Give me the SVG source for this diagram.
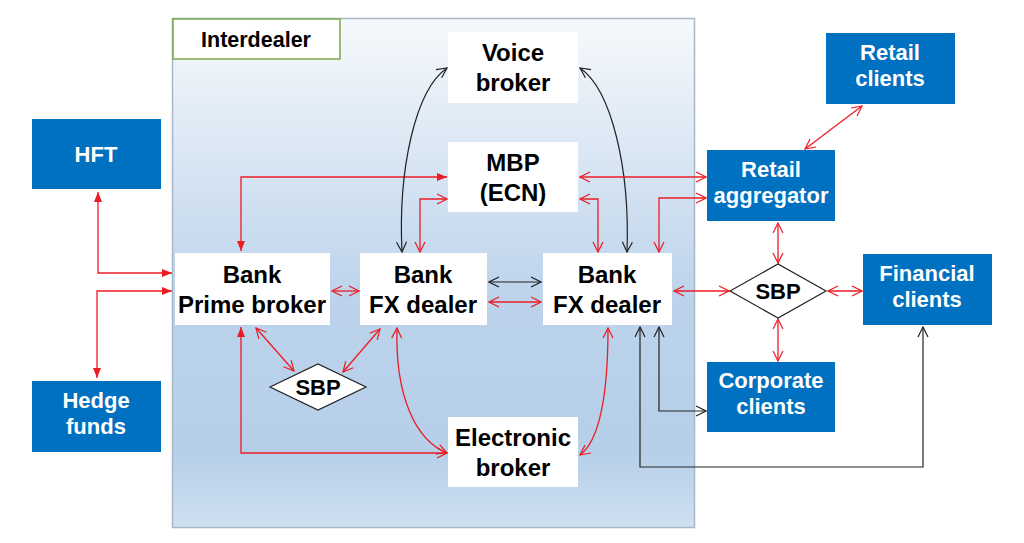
<svg xmlns="http://www.w3.org/2000/svg" width="1024" height="543" viewBox="0 0 1024 543">
<defs>
<linearGradient id="bg" x1="0" y1="0" x2="0" y2="1">
<stop offset="0" stop-color="#f6f9fc"/>
<stop offset="0.55" stop-color="#bcd3eb"/>
<stop offset="0.85" stop-color="#b6cfe9"/>
<stop offset="1" stop-color="#cfe0f1"/>
</linearGradient>
<marker id="ro" viewBox="0 0 12 12" refX="11" refY="6" markerWidth="12" markerHeight="12" markerUnits="userSpaceOnUse" orient="auto-start-reverse"><path d="M1,1 L11,6 L1,11" fill="none" stroke="#ec1c24" stroke-width="1.2"/></marker>
<marker id="ko" viewBox="0 0 12 12" refX="11" refY="6" markerWidth="12" markerHeight="12" markerUnits="userSpaceOnUse" orient="auto-start-reverse"><path d="M1,1 L11,6 L1,11" fill="none" stroke="#222" stroke-width="1.2"/></marker>
<marker id="rf" viewBox="0 0 10 10" refX="10" refY="5" markerWidth="10" markerHeight="10" markerUnits="userSpaceOnUse" orient="auto-start-reverse"><path d="M0,1 L10,5 L0,9 Z" fill="#ec1c24"/></marker>
</defs>
<style>
.w{fill:#fff}
.b{fill:#0070c0}
.t{font-family:"Liberation Sans",Arial,sans-serif;font-weight:bold;font-size:24px;text-anchor:middle;fill:#000}
.tw{font-family:"Liberation Sans",Arial,sans-serif;font-weight:bold;font-size:22px;text-anchor:middle;fill:#fff}
.s{font-family:"Liberation Sans",Arial,sans-serif;font-weight:bold;font-size:22px;text-anchor:middle;fill:#000}
.r{fill:none;stroke:#ec1c24;stroke-width:1.3}
.k{fill:none;stroke:#222;stroke-width:1.2}
</style>
<rect width="1024" height="543" fill="#fff"/>
<g id="interdealer">
<rect x="172.5" y="18.5" width="522" height="509" fill="url(#bg)" stroke="#a8b8c8" stroke-width="1.5"/>
<rect x="173" y="19" width="167" height="40" fill="#fff" stroke="#78a848" stroke-width="1.5"/>
<text class="s" x="256" y="47" style="font-size:21.5px">Interdealer</text>
</g>
<g id="connectors">
<path class="r" d="M98,192 V273 H172" marker-start="url(#rf)" marker-end="url(#rf)"/>
<path class="r" d="M97,378 V291 H172" marker-start="url(#rf)" marker-end="url(#rf)"/>
<path class="r" d="M241,251 V177 H447" marker-start="url(#rf)" marker-end="url(#rf)"/>
<path class="r" d="M241,327 V453 H447" marker-start="url(#rf)" marker-end="url(#ro)"/>
<path class="r" d="M332,291 H359" marker-start="url(#ro)" marker-end="url(#ro)"/>
<path class="r" d="M256,328 L294,371" marker-start="url(#ro)" marker-end="url(#ro)"/>
<path class="r" d="M380,329 L343,372" marker-start="url(#ro)" marker-end="url(#ro)"/>
<path class="r" d="M420,252 V199 H447" marker-start="url(#ro)" marker-end="url(#ro)"/>
<path class="r" d="M397,328 C395,395 415,440 447,453" marker-start="url(#ro)" marker-end="url(#ro)"/>
<path class="r" d="M608,328 C608,395 600,440 580,455" marker-start="url(#ro)" marker-end="url(#ro)"/>
<path class="k" d="M447,68 C415,90 398,170 402,252" marker-start="url(#ko)" marker-end="url(#ko)"/>
<path class="k" d="M580,68 C612,90 630,170 627,252" marker-start="url(#ko)" marker-end="url(#ko)"/>
<path class="k" d="M489,282 H541" marker-start="url(#ko)" marker-end="url(#ko)"/>
<path class="r" d="M489,302 H541" marker-start="url(#ro)" marker-end="url(#ro)"/>
<path class="r" d="M580,199 H598 V252" marker-start="url(#ro)" marker-end="url(#ro)"/>
<path class="r" d="M580,177 H706" marker-start="url(#ro)" marker-end="url(#ro)"/>
<path class="r" d="M659,252 V198 H706" marker-start="url(#ro)" marker-end="url(#ro)"/>
<path class="r" d="M862,106 L805,149" marker-start="url(#ro)" marker-end="url(#ro)"/>
<path class="r" d="M778,223 V263" marker-start="url(#ro)" marker-end="url(#ro)"/>
<path class="r" d="M674,291 H729" marker-start="url(#ro)" marker-end="url(#ro)"/>
<path class="r" d="M828,291 H862" marker-start="url(#ro)" marker-end="url(#ro)"/>
<path class="r" d="M778,319 V361" marker-start="url(#ro)" marker-end="url(#ro)"/>
<path class="k" d="M659,327 V411 H706" marker-start="url(#ko)" marker-end="url(#ko)"/>
<path class="k" d="M640,327 V467 H923 V327" marker-start="url(#ko)" marker-end="url(#ko)"/>
</g>
<g id="voice-broker"><rect class="w" x="448" y="32" width="130" height="71"/><text class="t" x="513" y="61">Voice</text><text class="t" x="513" y="91">broker</text></g>
<g id="mbp"><rect class="w" x="448" y="142" width="130" height="70"/><text class="t" x="513" y="171">MBP</text><text class="t" x="513" y="201">(ECN)</text></g>
<g id="prime-broker"><rect class="w" x="175" y="253" width="155" height="72"/><text class="t" x="252" y="283">Bank</text><text class="t" x="252" y="313">Prime broker</text></g>
<g id="fx-dealer-1"><rect class="w" x="360" y="253" width="127" height="72"/><text class="t" x="423" y="283">Bank</text><text class="t" x="423" y="313">FX dealer</text></g>
<g id="fx-dealer-2"><rect class="w" x="543" y="253" width="129" height="72"/><text class="t" x="607" y="283">Bank</text><text class="t" x="607" y="313">FX dealer</text></g>
<g id="sbp-1"><path d="M270,387 L318,364 L366,387 L318,410 Z" fill="#fff" stroke="#222" stroke-width="1.2"/><text class="s" x="318" y="395">SBP</text></g>
<g id="electronic-broker"><rect class="w" x="448" y="417" width="130" height="70"/><text class="t" x="513" y="446">Electronic</text><text class="t" x="513" y="476">broker</text></g>
<g id="retail-clients"><rect class="b" x="826" y="33" width="129" height="71"/><text class="tw" x="890" y="60">Retail</text><text class="tw" x="890" y="86">clients</text></g>
<g id="retail-aggregator"><rect class="b" x="707" y="150" width="128" height="71"/><text class="tw" x="771" y="177">Retail</text><text class="tw" x="771" y="203">aggregator</text></g>
<g id="sbp-2"><path d="M730,291 L778,264 L826,291 L778,318 Z" fill="#fff" stroke="#222" stroke-width="1.2"/><text class="s" x="778" y="299">SBP</text></g>
<g id="financial-clients"><rect class="b" x="863" y="254" width="129" height="71"/><text class="tw" x="927" y="281">Financial</text><text class="tw" x="927" y="307">clients</text></g>
<g id="corporate-clients"><rect class="b" x="707" y="362" width="128" height="70"/><text class="tw" x="771" y="388">Corporate</text><text class="tw" x="771" y="414">clients</text></g>
<g id="hft"><rect class="b" x="32" y="119" width="129" height="70"/><text class="tw" x="96" y="162">HFT</text></g>
<g id="hedge-funds"><rect class="b" x="32" y="381" width="129" height="71"/><text class="tw" x="96" y="408">Hedge</text><text class="tw" x="96" y="434">funds</text></g>
</svg>
